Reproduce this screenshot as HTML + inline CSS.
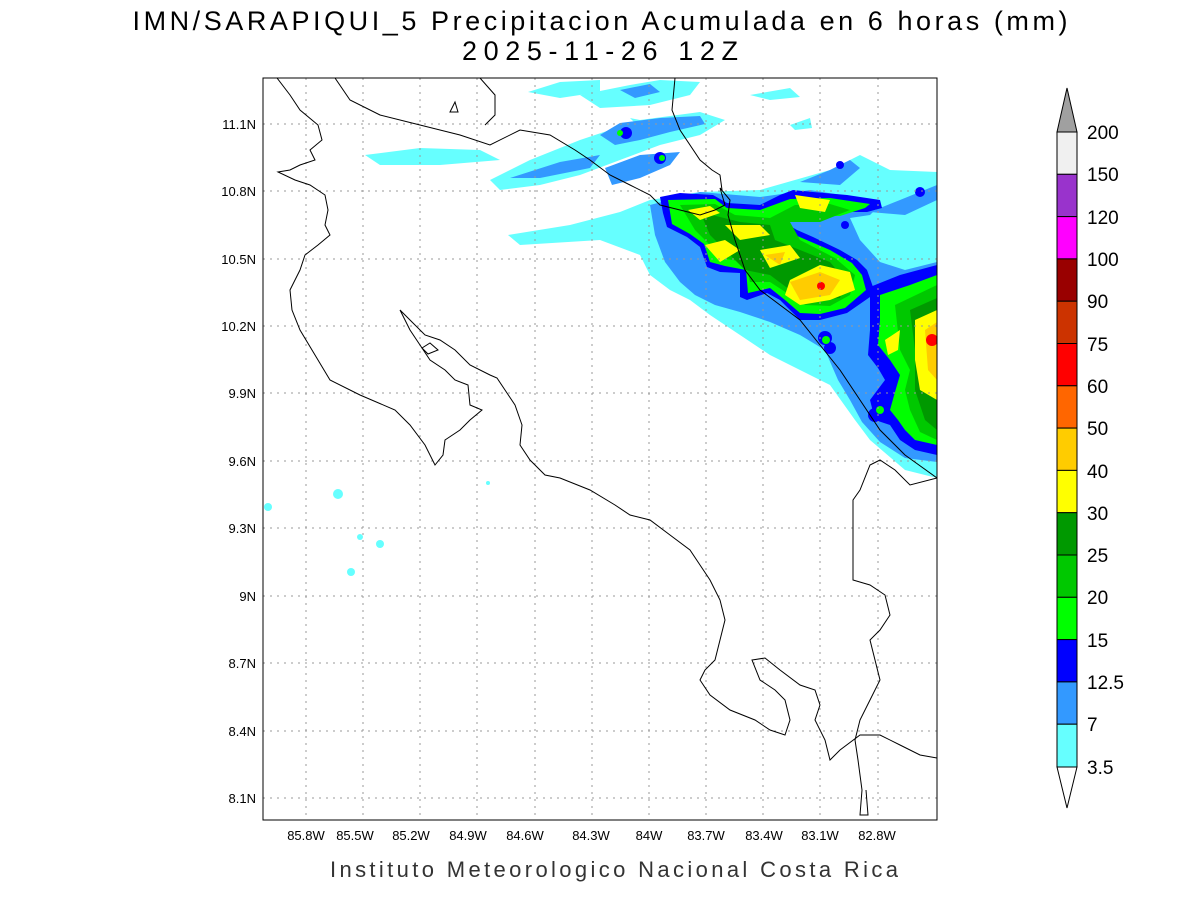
<!DOCTYPE html>
<html><head><meta charset="utf-8"><style>
body{margin:0;background:#fff;}
svg{display:block;font-family:"Liberation Sans",sans-serif;}
</style></head><body>
<svg width="1200" height="900" viewBox="0 0 1200 900">
<rect width="1200" height="900" fill="#fff"/>
<text x="600" y="30" font-size="27" text-anchor="middle" fill="#000" textLength="935" lengthAdjust="spacing">IMN/SARAPIQUI_5 Precipitacion Acumulada en 6 horas (mm)</text>
<text x="600" y="60" font-size="27" text-anchor="middle" fill="#000" textLength="276" lengthAdjust="spacing">2025-11-26 12Z</text>
<defs><clipPath id="c"><rect x="263" y="78" width="674" height="742"/></clipPath></defs>
<g clip-path="url(#c)" stroke-linejoin="round">
<g fill="#66ffff">
<path d="M528,92 L560,82 L600,80 L600,92 L560,98 Z"/>
<path d="M580,95 L630,85 L660,80 L700,82 L690,95 L650,105 L600,108 Z"/>
<path d="M490,180 L530,160 L580,140 L640,120 L700,112 L725,120 L700,135 L660,145 L620,160 L580,175 L540,185 L500,190 Z"/>
<path d="M365,155 L420,148 L480,150 L500,160 L440,165 L380,165 Z"/>
<path d="M508,235 L570,225 L620,212 L650,200 L700,192 L760,190 L830,170 L860,155 L890,170 L937,172 L937,478 L905,470 L870,440 L855,420 L830,385 L800,370 L770,355 L740,335 L710,315 L690,300 L670,290 L650,275 L640,255 L600,240 L520,245 Z"/>
<path d="M750,95 L790,88 L800,97 L770,100 Z"/>
<path d="M790,125 L810,118 L812,128 L795,130 Z"/>
<path d="M630,118 L650,122 L640,128 Z"/>
<circle cx="268" cy="507" r="4"/><circle cx="338" cy="494" r="5"/><circle cx="360" cy="537" r="3"/><circle cx="380" cy="544" r="4"/><circle cx="351" cy="572" r="4"/><circle cx="488" cy="483" r="2"/>
</g>
<g fill="#3399ff">
<path d="M620,90 L650,84 L660,92 L635,98 Z"/>
<path d="M600,135 L620,123 L660,118 L700,116 L705,124 L670,132 L640,140 L615,145 Z"/>
<path d="M510,178 L560,162 L600,155 L590,168 L540,178 Z"/>
<path d="M605,168 L640,155 L680,152 L670,165 L640,178 L612,185 Z"/>
<path d="M800,182 L830,170 L850,160 L860,168 L840,185 Z"/>
<path d="M870,212 L900,200 L937,185 L937,200 L905,215 Z"/>
<path d="M650,205 L700,192 L760,197 L810,190 L860,198 L880,205 L870,215 L850,218 L860,240 L880,262 L905,270 L937,262 L937,462 L905,458 L880,442 L862,422 L850,400 L838,380 L825,350 L800,335 L770,322 L740,312 L715,305 L695,295 L680,282 L665,262 L655,235 Z"/>
</g>
<g fill="#0000ff">
<path d="M660,197 L680,193 L713,195 L727,203 L760,205 L780,195 L793,190 L813,192 L847,195 L880,200 L882,208 L867,212 L843,212 L813,210 L787,213 L780,220 L797,230 L813,237 L840,250 L857,260 L867,270 L873,287 L870,297 L847,313 L820,320 L800,320 L790,310 L780,300 L767,293 L747,300 L740,297 L740,273 L720,272 L707,267 L700,247 L687,237 L667,227 L663,213 Z"/>
<path d="M870,287 L900,275 L937,265 L937,455 L915,450 L900,440 L890,425 L875,420 L870,400 L885,380 L878,368 L868,355 L870,330 Z"/>
<circle cx="626" cy="133" r="6"/><circle cx="660" cy="158" r="6"/><circle cx="840" cy="165" r="4"/><circle cx="845" cy="225" r="4"/><circle cx="920" cy="192" r="5"/><circle cx="830" cy="348" r="6"/><circle cx="825" cy="338" r="7"/><circle cx="875" cy="415" r="7"/>
</g>
<g fill="#00ff00">
<path d="M668,200 L715,199 L727,208 L760,210 L790,199 L830,198 L870,204 L865,208 L840,216 L790,216 L775,222 L795,235 L830,250 L852,263 L862,275 L866,290 L845,308 L820,314 L800,313 L785,300 L770,288 L748,293 L746,270 L725,266 L710,262 L704,244 L690,234 L672,224 Z"/>
<path d="M880,295 L910,285 L937,275 L937,445 L915,440 L905,430 L898,420 L890,410 L895,392 L900,375 L890,360 L878,345 L880,320 Z"/>
<circle cx="620" cy="133" r="3"/><circle cx="662" cy="158" r="3"/><circle cx="826" cy="340" r="4"/><circle cx="880" cy="410" r="4"/>
</g>
<g fill="#00c800">
<path d="M680,205 L715,204 L735,215 L770,218 L795,205 L830,204 L850,210 L820,222 L790,222 L800,240 L835,258 L855,275 L850,295 L830,306 L805,305 L790,295 L770,282 L750,282 L745,262 L720,258 L710,245 L695,230 Z"/>
<path d="M895,305 L937,285 L937,440 L920,432 L910,410 L905,390 L910,370 L900,350 Z"/>
</g>
<g fill="#009900">
<path d="M700,212 L740,222 L770,225 L775,240 L800,250 L830,262 L845,280 L840,298 L815,300 L790,290 L770,275 L745,270 L725,250 L710,235 Z"/>
<path d="M910,310 L937,298 L937,430 L925,420 L915,390 L915,350 Z"/>
</g>
<g fill="#ffff00">
<path d="M688,210 L710,206 L720,213 L700,220 Z"/>
<path d="M725,225 L760,225 L770,235 L740,240 Z"/>
<path d="M705,245 L725,240 L740,250 L720,262 Z"/>
<path d="M760,250 L790,245 L800,258 L770,268 Z"/>
<path d="M795,195 L830,200 L825,212 L800,208 Z"/>
<path d="M790,280 L820,265 L850,272 L855,290 L830,300 L800,305 L785,295 Z"/>
<path d="M885,340 L900,330 L898,350 L888,355 Z"/>
<path d="M915,320 L937,310 L937,400 L920,390 L915,360 Z"/>
</g>
<g fill="#ffcc00">
<path d="M790,282 L820,272 L840,280 L830,295 L800,300 Z"/>
<path d="M925,330 L937,322 L937,380 L928,370 Z"/>
<path d="M765,255 L785,252 L780,265 Z"/>
</g>
<g fill="#ff0000"><circle cx="821" cy="286" r="4"/><circle cx="932" cy="340" r="6"/></g>
</g>
<g stroke="#999" stroke-width="1" stroke-dasharray="2,5">
<line x1="306" y1="78" x2="306" y2="820"/><line x1="363" y1="78" x2="363" y2="820"/><line x1="420" y1="78" x2="420" y2="820"/><line x1="477" y1="78" x2="477" y2="820"/><line x1="535" y1="78" x2="535" y2="820"/><line x1="592" y1="78" x2="592" y2="820"/><line x1="649" y1="78" x2="649" y2="820"/><line x1="706" y1="78" x2="706" y2="820"/><line x1="763" y1="78" x2="763" y2="820"/><line x1="820" y1="78" x2="820" y2="820"/><line x1="878" y1="78" x2="878" y2="820"/>
<line x1="263" y1="124" x2="937" y2="124"/><line x1="263" y1="191" x2="937" y2="191"/><line x1="263" y1="259" x2="937" y2="259"/><line x1="263" y1="326" x2="937" y2="326"/><line x1="263" y1="393" x2="937" y2="393"/><line x1="263" y1="461" x2="937" y2="461"/><line x1="263" y1="528" x2="937" y2="528"/><line x1="263" y1="596" x2="937" y2="596"/><line x1="263" y1="663" x2="937" y2="663"/><line x1="263" y1="731" x2="937" y2="731"/><line x1="263" y1="798" x2="937" y2="798"/>
</g>
<g clip-path="url(#c)" fill="none" stroke="#000" stroke-width="1">
<path d="M277,78 L290,95 L300,110 L318,125 L322,140 L310,150 L315,160 L300,165 L290,170 L278,172 L295,180 L310,185 L325,195 L328,210 L325,225 L330,235 L318,245 L305,255 L300,270 L290,290 L292,310 L300,330 L315,355 L330,380 L360,395 L395,410 L410,425 L425,445 L435,465 L443,455 L445,440 L460,430 L470,420 L482,410 L470,405 L468,385 L455,380 L445,370 L430,360 L420,345 L410,330 L405,320 L400,310 L410,320 L425,335 L440,340 L455,350 L470,365 L490,375 L497,378 L505,390 L515,405 L522,425 L520,445 L530,460 L545,475 L560,478 L590,490 L615,505 L630,515 L650,520 L670,535 L690,550 L700,565 L710,580 L720,600 L725,620 L720,640 L715,660 L705,670 L700,680 L710,695 L730,710 L755,720 L770,730 L785,735 L790,720 L785,700 L775,690 L760,680 L752,660 L765,658 L780,670 L800,685 L815,690 L820,705 L815,720 L825,740 L830,760 L840,750 L860,735 L880,735 L900,745 L920,755 L937,758"/>
<path d="M422,348 L430,343 L438,350 L428,354 Z"/>
<path d="M937,478 L910,485 L895,470 L880,460 L870,465 L860,490 L853,500 L853,580 L870,585 L885,595 L890,615 L880,630 L870,640 L875,660 L880,680 L870,700 L860,720 L855,740 L858,760 L862,790 L860,815 L868,815 L866,790"/>
<path d="M937,478 L905,455 L880,430 L860,400 L840,370 L820,345 L800,320 L780,305 L760,290 L745,270 L735,240 L728,215 L730,200 L720,188 L725,205 L715,210 L700,215 L680,210 L660,205 L650,195 L630,185 L610,175 L590,160 L575,150 L550,135 L520,130 L490,145 L460,135 L420,125 L380,115 L350,100 L335,78"/>
<path d="M675,78 L672,110 L680,130 L700,160 L712,170 L720,175 L722,190"/>
<path d="M480,78 L495,95 L495,115 L485,125"/>
<path d="M450,112 L455,102 L458,112 Z"/>
</g>
<rect x="263" y="78" width="674" height="742" fill="none" stroke="#000" stroke-width="1"/>
<g font-size="13" fill="#000" text-anchor="end">
<text x="256" y="129">11.1N</text><text x="256" y="196">10.8N</text><text x="256" y="264">10.5N</text><text x="256" y="331">10.2N</text><text x="256" y="398">9.9N</text><text x="256" y="466">9.6N</text><text x="256" y="533">9.3N</text><text x="256" y="601">9N</text><text x="256" y="668">8.7N</text><text x="256" y="736">8.4N</text><text x="256" y="803">8.1N</text>
</g>
<g font-size="13" fill="#000" text-anchor="middle">
<text x="306" y="840">85.8W</text><text x="355" y="840">85.5W</text><text x="411" y="840">85.2W</text><text x="468" y="840">84.9W</text><text x="525" y="840">84.6W</text><text x="591" y="840">84.3W</text><text x="649" y="840">84W</text><text x="706" y="840">83.7W</text><text x="764" y="840">83.4W</text><text x="820" y="840">83.1W</text><text x="877" y="840">82.8W</text>
</g>
<text x="614" y="877" font-size="22" text-anchor="middle" fill="#333" textLength="568" lengthAdjust="spacing">Instituto Meteorologico Nacional Costa Rica</text>
<g stroke="#000" stroke-width="1">
<path d="M1057,132 L1067,88 L1077,132 Z" fill="#a0a0a0"/>
<rect x="1057" y="132" width="20" height="42.3" fill="#f0f0f0"/>
<rect x="1057" y="174.3" width="20" height="42.3" fill="#9933cc"/>
<rect x="1057" y="216.6" width="20" height="42.3" fill="#ff00ff"/>
<rect x="1057" y="258.9" width="20" height="42.3" fill="#990000"/>
<rect x="1057" y="301.2" width="20" height="42.3" fill="#cc3300"/>
<rect x="1057" y="343.5" width="20" height="42.3" fill="#ff0000"/>
<rect x="1057" y="385.8" width="20" height="42.3" fill="#ff6600"/>
<rect x="1057" y="428.1" width="20" height="42.3" fill="#ffcc00"/>
<rect x="1057" y="470.4" width="20" height="42.3" fill="#ffff00"/>
<rect x="1057" y="512.7" width="20" height="42.3" fill="#009900"/>
<rect x="1057" y="555" width="20" height="42.3" fill="#00c800"/>
<rect x="1057" y="597.3" width="20" height="42.3" fill="#00ff00"/>
<rect x="1057" y="639.6" width="20" height="42.3" fill="#0000ff"/>
<rect x="1057" y="681.9" width="20" height="42.3" fill="#3399ff"/>
<rect x="1057" y="724.2" width="20" height="42.8" fill="#66ffff"/>
<path d="M1057,767 L1067,808 L1077,767 Z" fill="#fff"/>
</g>
<g font-size="19" fill="#000">
<text x="1087" y="139">200</text><text x="1087" y="181">150</text><text x="1087" y="224">120</text><text x="1087" y="266">100</text><text x="1087" y="308">90</text><text x="1087" y="351">75</text><text x="1087" y="393">60</text><text x="1087" y="435">50</text><text x="1087" y="478">40</text><text x="1087" y="520">30</text><text x="1087" y="562">25</text><text x="1087" y="604">20</text><text x="1087" y="647">15</text><text x="1087" y="689">12.5</text><text x="1087" y="731">7</text><text x="1087" y="774">3.5</text>
</g>
</svg>
</body></html>
